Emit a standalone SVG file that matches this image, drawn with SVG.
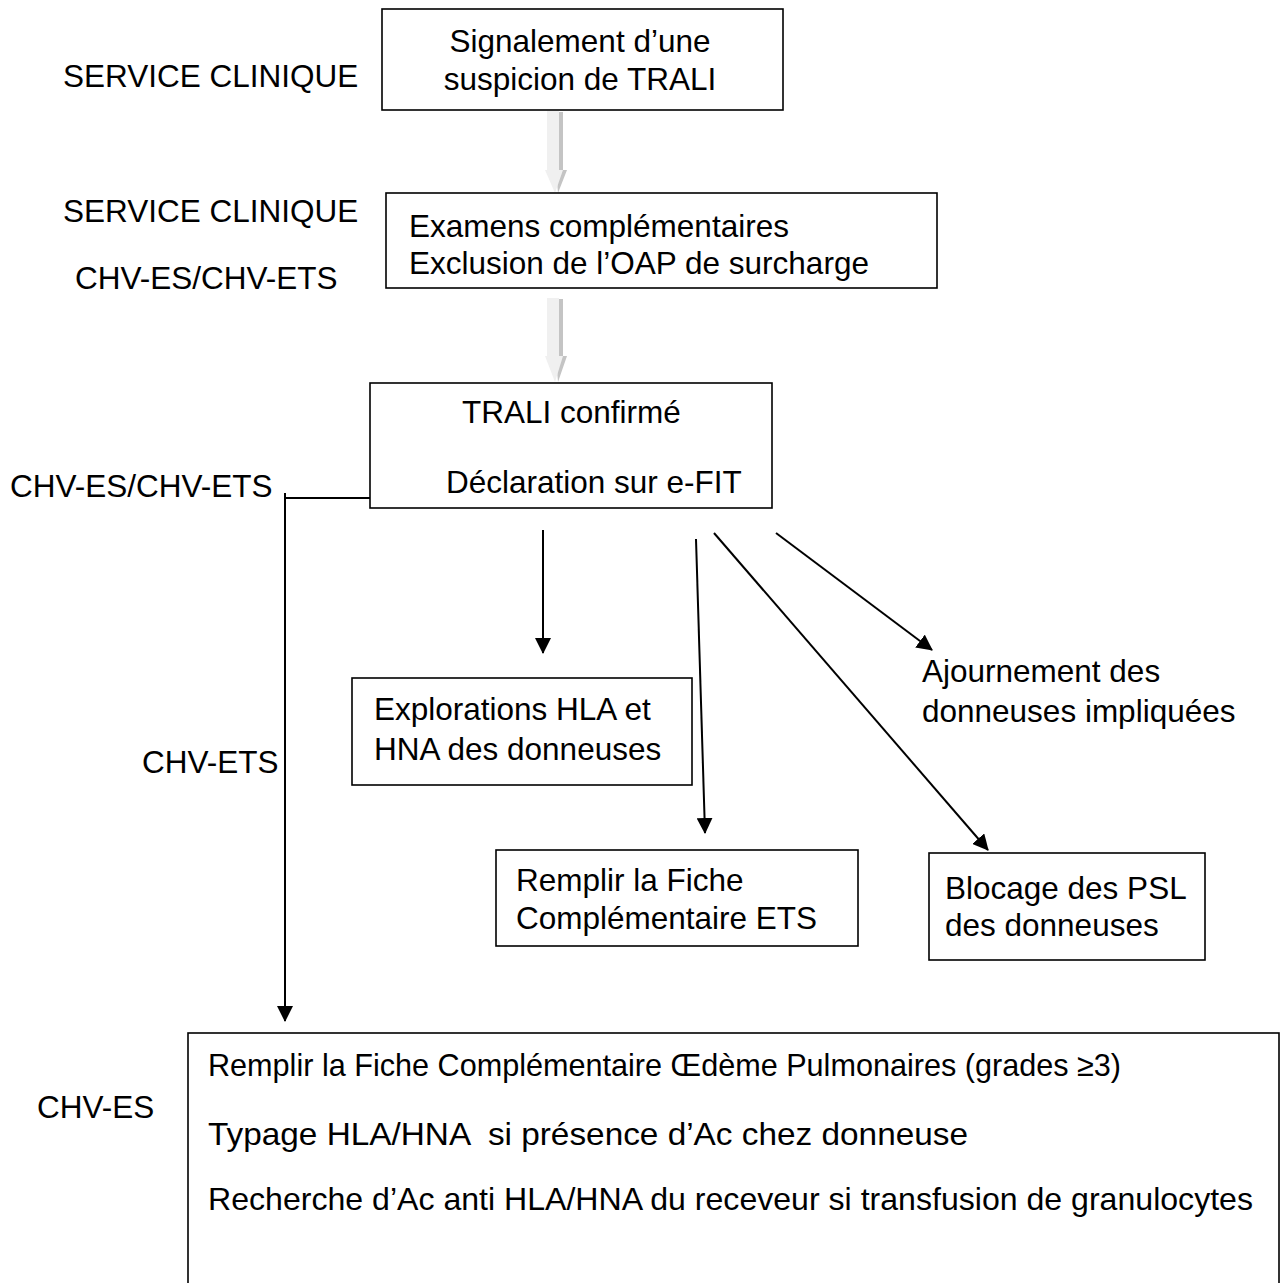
<svg xmlns="http://www.w3.org/2000/svg" width="1282" height="1283" viewBox="0 0 1282 1283">
<style>
.t{font-family:"Liberation Sans",Arial,sans-serif;font-size:31.5px;fill:#000}
.box{fill:#fff;stroke:#000;stroke-width:1.6}
.c{stroke:#000;stroke-width:2;fill:none}
.gl{fill:#f0f0f0}
.gd{fill:#c4c4c4}
</style>
<defs>
<marker id="ah" markerUnits="userSpaceOnUse" markerWidth="16" markerHeight="16" viewBox="0 0 16 16" refX="15" refY="8" orient="auto">
<path d="M0,0 L16,8 L0,16 Z" fill="#000"/>
</marker>
<clipPath id="cb2"><rect x="386" y="193" width="551" height="95"/></clipPath>
</defs>
<rect width="1282" height="1283" fill="#fff"/>

<g id="labels">
<text class="t" x="63" y="87">SERVICE CLINIQUE</text>
<text class="t" x="63" y="222">SERVICE CLINIQUE</text>
<text class="t" x="75" y="289">CHV-ES/CHV-ETS</text>
<text class="t" x="10" y="497">CHV-ES/CHV-ETS</text>
<text class="t" x="142" y="773">CHV-ETS</text>
<text class="t" x="37" y="1118">CHV-ES</text>
</g>

<g id="connectors">
<g id="grey1">
<path class="gd" d="M551,112 H563 V170 L567,170 L558,193 Z"/>
<path class="gl" d="M547,111 H559 V170 L563,170 L555,193 L545,170 L547,170 Z"/>
</g>
<g id="grey2">
<path class="gd" d="M551,299 H563 V356 L567,356 L558,382 Z"/>
<path class="gl" d="M547,298 H559 V356 L563,356 L555,382 L545,356 L547,356 Z"/>
</g>
<polyline class="c" points="370,498 285,498"/>
<line class="c" x1="285" y1="493" x2="285" y2="1021" marker-end="url(#ah)"/>
<line class="c" x1="543" y1="530" x2="543" y2="653" marker-end="url(#ah)"/>
<line class="c" x1="696" y1="539" x2="705" y2="833" marker-end="url(#ah)"/>
<line class="c" x1="714" y1="533" x2="988" y2="850" marker-end="url(#ah)"/>
<line class="c" x1="776" y1="533" x2="932" y2="650" marker-end="url(#ah)"/>
</g>

<g id="n1">
<rect class="box" x="382" y="9" width="401" height="101"/>
<text class="t" x="580" y="52" text-anchor="middle">Signalement d’une</text>
<text class="t" x="580" y="90" text-anchor="middle">suspicion de TRALI</text>
</g>

<g id="n2">
<rect class="box" x="386" y="193" width="551" height="95"/>
<g clip-path="url(#cb2)">
<text class="t" x="409" y="237">Examens complémentaires</text>
<text class="t" x="409" y="274">Exclusion de l’OAP de surcharge</text>
</g>
</g>

<g id="n3">
<rect class="box" x="370" y="383" width="402" height="125"/>
<text class="t" x="462" y="423">TRALI confirmé</text>
<text class="t" x="446" y="493">Déclaration sur e-FIT</text>
</g>

<g id="n4">
<rect class="box" x="352" y="678" width="340" height="107"/>
<text class="t" x="374" y="720">Explorations HLA et</text>
<text class="t" x="374" y="760">HNA des donneuses</text>
</g>

<g id="n5">
<text class="t" x="922" y="682">Ajournement des</text>
<text class="t" x="922" y="722">donneuses impliquées</text>
</g>

<g id="n6">
<rect class="box" x="496" y="850" width="362" height="96"/>
<text class="t" x="516" y="891">Remplir la Fiche</text>
<text class="t" x="516" y="929">Complémentaire ETS</text>
</g>

<g id="n7">
<rect class="box" x="929" y="853" width="276" height="107"/>
<text class="t" x="945" y="899">Blocage des PSL</text>
<text class="t" x="945" y="936">des donneuses</text>
</g>

<g id="n8">
<rect class="box" x="188" y="1033" width="1091" height="270"/>
<text class="t" x="208" y="1076" textLength="913" lengthAdjust="spacingAndGlyphs">Remplir la Fiche Complémentaire Œdème Pulmonaires (grades ≥3)</text>
<text class="t" x="208" y="1145" textLength="760" lengthAdjust="spacingAndGlyphs" xml:space="preserve">Typage HLA/HNA  si présence d’Ac chez donneuse</text>
<text class="t" x="208" y="1210" textLength="1045" lengthAdjust="spacingAndGlyphs">Recherche d’Ac anti HLA/HNA du receveur si transfusion de granulocytes</text>
</g>
</svg>
